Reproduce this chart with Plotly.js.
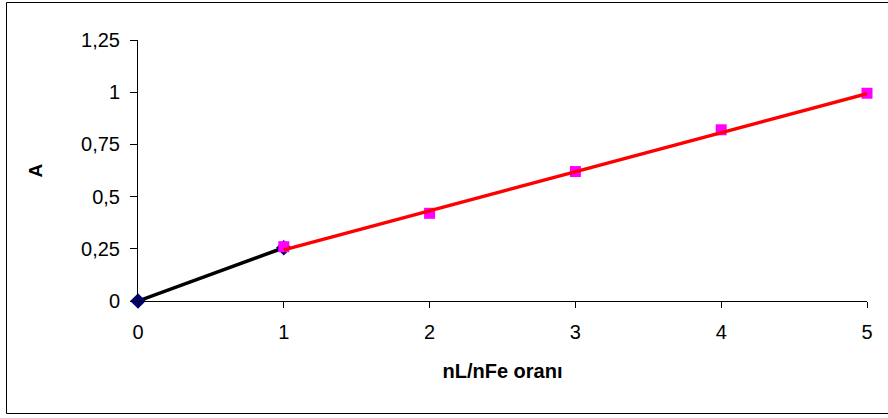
<!DOCTYPE html>
<html>
<head>
<meta charset="utf-8">
<script src="https://cdn.plot.ly/plotly-3.0.1.min.js"></script>
<style>
html,body{margin:0;padding:0;background:#fff;}
#chart{width:888px;height:418px;}
</style>
</head>
<body>
<div id="chart"></div>
<script>
// Series 1: start segment (dark blue diamonds, black line)
var startX = [0, 1];
var startY = [0, 0.255];
// Series 2: measured points (magenta squares)
var ratioX = [1, 2, 3, 4, 5];
var absY = [0.26, 0.42, 0.62, 0.82, 0.995];
// Trend line (red)
var trendX = [1, 5];
var trendY = [0.245, 0.993];
// Tick labels
var xTickVals = [0, 1, 2, 3, 4, 5];
var xTickText = ["0", "1", "2", "3", "4", "5"];
var yTickVals = [0, 0.25, 0.5, 0.75, 1, 1.25];
var yTickText = ["0", "0,25", "0,5", "0,75", "1", "1,25"];

var FONT = "'Liberation Sans', Arial, sans-serif";

var traces = [
  {
    x: startX, y: startY, type: 'scatter', mode: 'lines+markers',
    line: {color: '#000000', width: 3.5},
    marker: {symbol: 'diamond', color: '#000080', size: 12},
    cliponaxis: false, showlegend: false
  },
  {
    x: ratioX, y: absY, type: 'scatter', mode: 'markers',
    marker: {symbol: 'square', color: '#FF00FF', size: 11},
    cliponaxis: false, showlegend: false
  },
  {
    x: trendX, y: trendY, type: 'scatter', mode: 'lines',
    line: {color: '#FF0000', width: 3.5},
    cliponaxis: false, showlegend: false
  }
];

var layout = {
  width: 888, height: 418,
  margin: {l: 138, r: 21, t: 40, b: 117, pad: 0},
  paper_bgcolor: '#ffffff', plot_bgcolor: '#ffffff',
  font: {family: FONT, size: 20, color: '#000000'},
  xaxis: {
    range: [0, 5], tickvals: xTickVals, ticktext: xTickText,
    showgrid: false, zeroline: false, showline: true, linecolor: '#000', linewidth: 1,
    ticks: 'outside', ticklen: 6, tickcolor: '#000', tickwidth: 1,
    ticklabelstandoff: 7,
    tickfont: {family: FONT, size: 20, color: '#000'},
    title: {text: '<b>nL/nFe oranı</b>', font: {family: FONT, size: 20, color: '#000'}, standoff: 21}
  },
  yaxis: {
    range: [0, 1.25], tickvals: yTickVals, ticktext: yTickText,
    showgrid: false, zeroline: false, showline: true, linecolor: '#000', linewidth: 1,
    ticks: 'outside', ticklen: 7, tickcolor: '#000', tickwidth: 1,
    ticklabelstandoff: 6,
    tickfont: {family: FONT, size: 20, color: '#000'},
    title: {text: '<b>A</b>', font: {family: FONT, size: 19, color: '#000'}, standoff: 33}
  },
  shapes: [
    {type: 'rect', xref: 'paper', yref: 'paper',
     x0: (6.5 - 138) / 729, x1: (892 - 138) / 729,
     y0: (301 - 413.5) / 261, y1: (301 - 2.5) / 261,
     line: {color: '#000', width: 1}, fillcolor: 'rgba(0,0,0,0)', layer: 'below'}
  ]
};

Plotly.newPlot('chart', traces, layout, {staticPlot: true, displayModeBar: false});
</script>
</body>
</html>
